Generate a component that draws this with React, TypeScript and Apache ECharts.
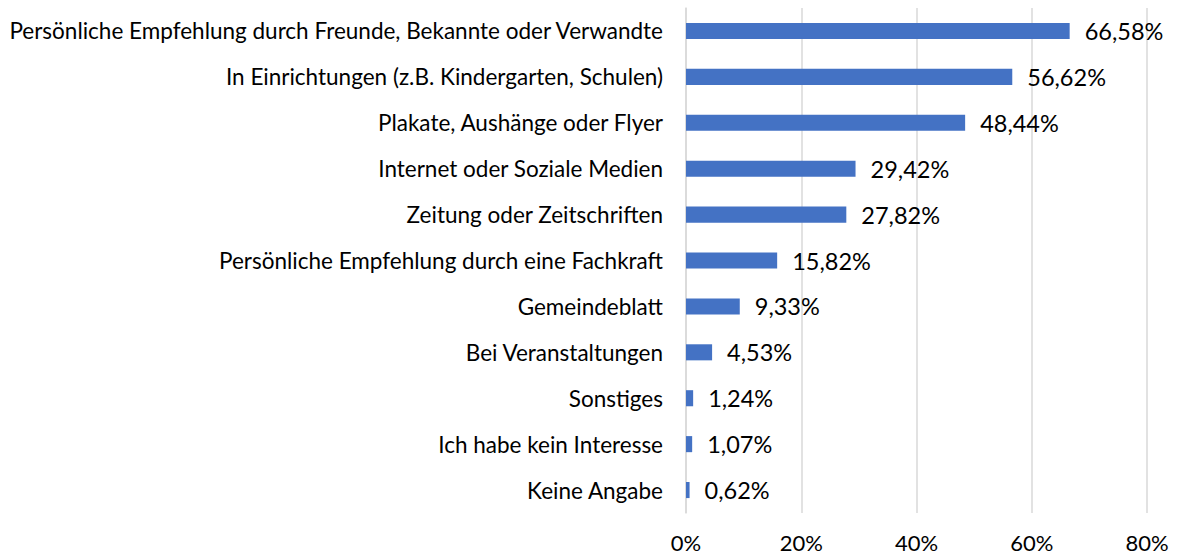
import React, { useEffect, useRef } from "react";
import * as echarts from "echarts";

const categories = [
  "Persönliche Empfehlung durch Freunde, Bekannte oder Verwandte",
  "In Einrichtungen (z.B. Kindergarten, Schulen)",
  "Plakate, Aushänge oder Flyer",
  "Internet oder Soziale Medien",
  "Zeitung oder Zeitschriften",
  "Persönliche Empfehlung durch eine Fachkraft",
  "Gemeindeblatt",
  "Bei Veranstaltungen",
  "Sonstiges",
  "Ich habe kein Interesse",
  "Keine Angabe",
];
const values = [66.58, 56.62, 48.44, 29.42, 27.82, 15.82, 9.33, 4.53, 1.24, 1.07, 0.62];

const FONT = "Lato, 'Open Sans', sans-serif";

export default function App() {
  const ref = useRef<HTMLDivElement>(null);
  useEffect(() => {
    if (!ref.current) return;
    const chart = echarts.init(ref.current, undefined, { renderer: "svg" });
    chart.setOption({
      animation: false,
      backgroundColor: "#ffffff",
      grid: { left: 686, right: 32, top: 8, bottom: 41, containLabel: false },
      xAxis: {
        type: "value",
        min: 0,
        max: 80,
        interval: 20,
        axisLine: { show: false },
        axisTick: { show: false },
        splitLine: { show: true, lineStyle: { color: "#d9d9d9", width: 1.5 } },
        axisLabel: {
          formatter: "{value}%",
          color: "#000",
          fontSize: 22,
          lineHeight: 18,
          fontFamily: FONT,
          margin: 20,
        },
      },
      yAxis: {
        type: "category",
        data: categories,
        inverse: true,
        axisLine: { show: true, lineStyle: { color: "#d9d9d9", width: 1.5 } },
        axisTick: { show: false },
        axisLabel: { color: "#000", fontSize: 22.5, fontFamily: FONT, margin: 23 },
      },
      series: [
        {
          type: "bar",
          data: values,
          barCategoryGap: "65%",
          itemStyle: { color: "#4472C4" },
          label: {
            show: true,
            position: "right",
            distance: 15,
            color: "#000",
            fontSize: 23.5,
            fontFamily: FONT,
            formatter: (p: any) => p.value.toFixed(2).replace(".", ",") + "%",
          },
        },
      ],
    });
    return () => chart.dispose();
  }, []);
  return (
    <div
      ref={ref}
      style={{ position: "fixed", left: 0, top: 0, width: 1179, height: 554, background: "#fff" }}
    />
  );
}
